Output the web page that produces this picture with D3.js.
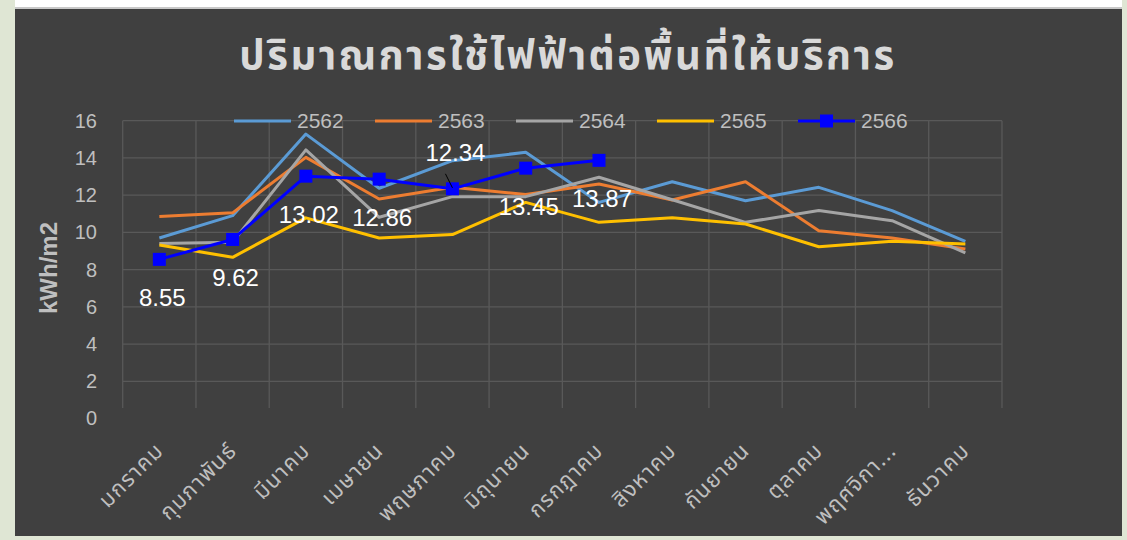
<!DOCTYPE html>
<html>
<head>
<meta charset="utf-8">
<script src="https://cdn.jsdelivr.net/npm/d3@7"></script>
<style>
  body { margin: 0; background: #dfe6d4; }
  svg { display: block; }
</style>
</head>
<body>
<div id="chart-container"></div>
<script>
// Données du graphique
const mois = ["มกราคม", "กุมภาพันธ์", "มีนาคม", "เมษายน", "พฤษภาคม", "มิถุนายน",
  "กรกฎาคม", "สิงหาคม", "กันยายน", "ตุลาคม", "พฤศจิกา...", "ธันวาคม"];
const annees = ["2562", "2563", "2564", "2565", "2566"];
const v2562 = [9.70, 10.90, 15.28, 12.37, 13.85, 14.30, 11.61, 12.72, 11.70, 12.42, 11.17, 9.52];
const v2563 = [10.85, 11.05, 14.03, 11.79, 12.42, 12.03, 12.60, 11.74, 12.72, 10.09, 9.70, 9.11];
const v2564 = [9.40, 9.47, 14.43, 10.81, 11.92, 11.92, 12.96, 11.75, 10.54, 11.17, 10.63, 8.90];
const v2565 = [9.32, 8.66, 10.78, 9.70, 9.88, 11.61, 10.54, 10.78, 10.45, 9.23, 9.52, 9.38];
const v2566 = [8.55, 9.62, 13.02, 12.86, 12.34, 13.45, 13.87];
const yTicks = [0, 2, 4, 6, 8, 10, 12, 14, 16];

const titre = "ปริมาณการใช้ไฟฟ้าต่อพื้นที่ให้บริการ";
const titreAxeY = "kWh/m2";

const couleurs = ["#5b9bd5", "#ed7d31", "#a5a5a5", "#ffc000", "#0000ff"];
const series = [v2562, v2563, v2564, v2565, v2566];

function drawChart() {
    const W = 1127, H = 540;
    const fontTh = "'Noto Sans Thai', 'Noto Sans', 'DejaVu Sans', sans-serif";
    const fontNum = "'Liberation Sans', Arial, sans-serif";

    const svg = d3.select("#chart-container")
        .append("svg")
        .attr("width", W)
        .attr("height", H);

    // Fond : bande blanche en haut et panneau sombre
    svg.append("rect").attr("x", 15).attr("y", 0).attr("width", 1107).attr("height", 8).attr("fill", "#ffffff");
    svg.append("rect").attr("x", 15).attr("y", 7).attr("width", 1107).attr("height", 2).attr("fill", "#c8c8c8");
    svg.append("rect").attr("x", 15).attr("y", 9).attr("width", 1107).attr("height", 527).attr("fill", "#404040");

    // Echelles
    const xScale = d3.scaleBand()
        .domain(mois)
        .range([122.7, 1002]);

    const yScale = d3.scaleLinear()
        .domain([0, 16])
        .range([418.5, 120.7]);

    const cx = d => xScale(d) + xScale.bandwidth() / 2;

    // Grille horizontale
    svg.append("g")
        .selectAll("line")
        .data(yTicks.filter(t => t > 0))
        .enter().append("line")
        .attr("x1", 122.7).attr("x2", 1002)
        .attr("y1", d => yScale(d)).attr("y2", d => yScale(d))
        .attr("stroke", "#595959").attr("stroke-width", 1.3);

    // Grille verticale
    const bords = mois.map(m => xScale(m)).concat([1002]);
    svg.append("g")
        .selectAll("line")
        .data(bords)
        .enter().append("line")
        .attr("x1", d => d).attr("x2", d => d)
        .attr("y1", yScale(16)).attr("y2", 408)
        .attr("stroke", "#595959").attr("stroke-width", 1.3);

    // Axe des y (étiquettes seulement)
    const yAxis = svg.append("g")
        .attr("transform", "translate(97,0)")
        .call(d3.axisLeft(yScale).tickValues(yTicks).tickSize(0).tickPadding(0));
    yAxis.select(".domain").remove();
    yAxis.selectAll("text")
        .attr("fill", "#bfbfbf")
        .style("font-family", fontNum)
        .style("font-size", "20px");

    // Axe des x (étiquettes inclinées)
    const xAxis = svg.append("g")
        .attr("transform", "translate(0,418.5)")
        .call(d3.axisBottom(xScale).tickSize(0).tickPadding(0));
    xAxis.select(".domain").remove();
    xAxis.selectAll("text")
        .attr("fill", "#bfbfbf")
        .style("font-family", fontTh)
        .style("font-size", "22px")
        .style("letter-spacing", "1.2px")
        .style("text-anchor", "end")
        .attr("dy", "0.35em")
        .attr("transform", "translate(0,28) rotate(-45)");

    // Titre
    svg.append("text")
        .attr("x", 568)
        .attr("y", 69)
        .attr("text-anchor", "middle")
        .attr("fill", "#d9d9d9")
        .style("font-family", fontTh)
        .style("font-weight", "bold")
        .style("font-size", "40px")
        .style("letter-spacing", "2.5px")
        .text(titre);

    // Titre de l'axe y
    svg.append("text")
        .attr("transform", "translate(57,268) rotate(-90)")
        .attr("text-anchor", "middle")
        .attr("fill", "#bfbfbf")
        .style("font-family", fontNum)
        .style("font-weight", "bold")
        .style("font-size", "24px")
        .text(titreAxeY);

    // Lignes
    const line = d3.line()
        .x((d, i) => cx(mois[i]))
        .y(d => yScale(d));

    series.forEach((s, k) => {
        svg.append("path")
            .datum(s)
            .attr("fill", "none")
            .attr("stroke", couleurs[k])
            .attr("stroke-width", 3)
            .attr("stroke-linejoin", "round")
            .attr("d", line);
    });

    // Marqueurs carrés pour 2566
    svg.selectAll(".marker")
        .data(v2566)
        .enter().append("rect")
        .attr("class", "marker")
        .attr("x", (d, i) => cx(mois[i]) - 6.5)
        .attr("y", d => yScale(d) - 6.5)
        .attr("width", 13).attr("height", 13)
        .attr("fill", "#0000ff");

    // Etiquettes de données (2566)
    const decal = [38, 38, 38, 38, -36, 38, 38];
    svg.selectAll(".label")
        .data(v2566)
        .enter().append("text")
        .attr("class", "label")
        .attr("x", (d, i) => cx(mois[i]) + 3)
        .attr("y", (d, i) => yScale(d) + decal[i])
        .attr("dy", "0.35em")
        .attr("text-anchor", "middle")
        .attr("fill", "#ffffff")
        .style("font-family", fontNum)
        .style("font-size", "24px")
        .text(d => d.toFixed(2));

    // Petit trait de rappel pour l'étiquette déplacée
    svg.append("line")
        .attr("x1", cx(mois[4]) - 7).attr("y1", yScale(v2566[4]) - 15)
        .attr("x2", cx(mois[4])).attr("y2", yScale(v2566[4]) - 1)
        .attr("stroke", "#000000").attr("stroke-width", 1);

    // Légende
    const leg = svg.append("g")
        .selectAll("g")
        .data(annees)
        .enter().append("g")
        .attr("transform", (d, i) => "translate(" + (234 + i * 141) + ",121)");

    leg.append("line")
        .attr("x1", 0).attr("x2", 57)
        .attr("stroke", (d, i) => couleurs[i])
        .attr("stroke-width", 3);

    leg.filter((d, i) => i === 4)
        .append("rect")
        .attr("x", 22).attr("y", -6.5)
        .attr("width", 13).attr("height", 13)
        .attr("fill", "#0000ff");

    leg.append("text")
        .attr("x", 63)
        .attr("dy", "0.35em")
        .attr("fill", "#bfbfbf")
        .style("font-family", fontNum)
        .style("font-size", "21px")
        .text(d => d);
}

document.addEventListener("DOMContentLoaded", drawChart);
</script>
</body>
</html>
